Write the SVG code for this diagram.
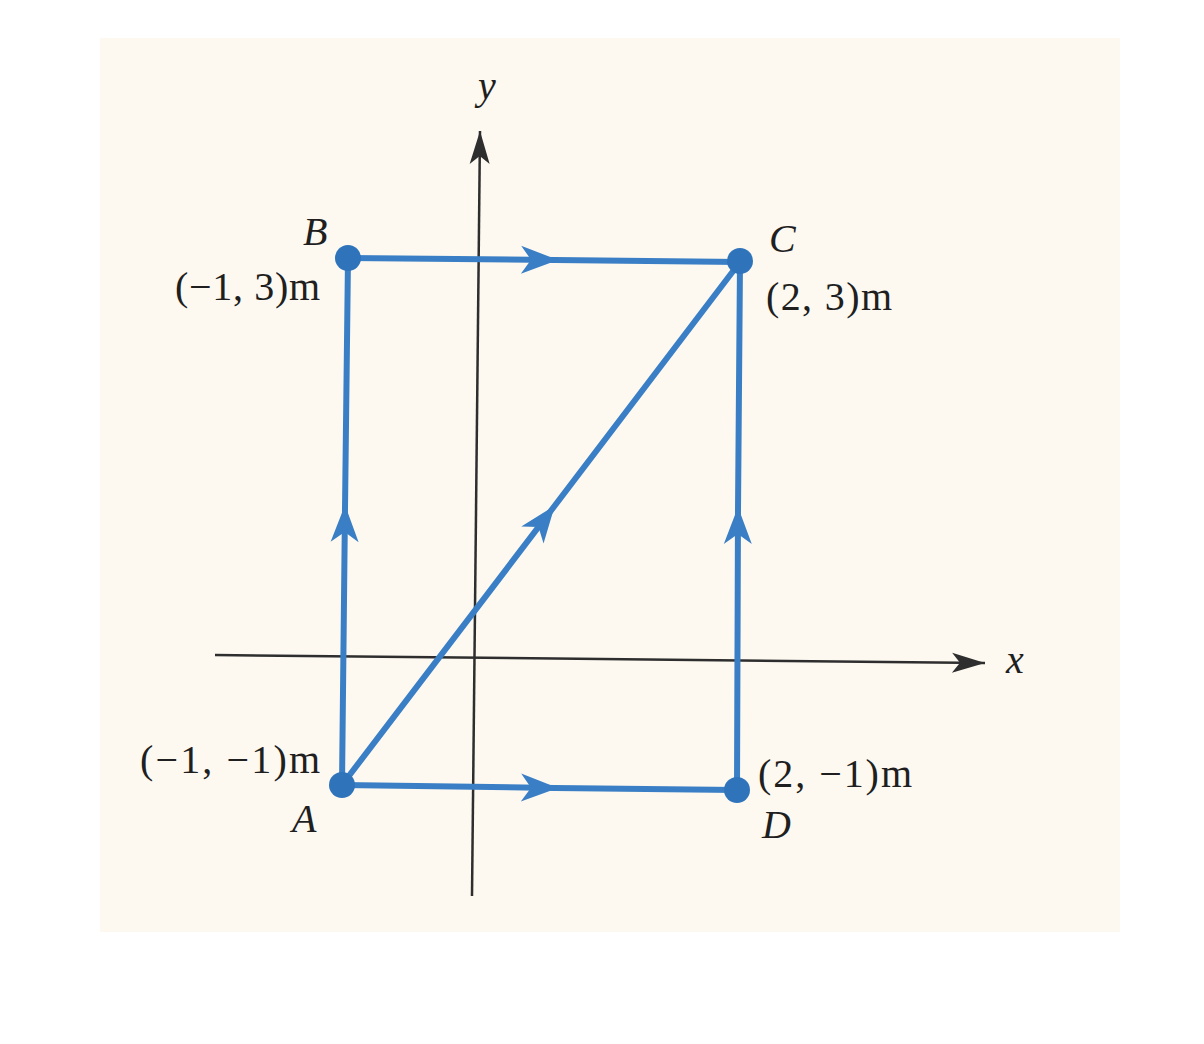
<svg xmlns="http://www.w3.org/2000/svg" width="1204" height="1044" viewBox="0 0 1204 1044">
  <style>
    .lbl { font-family: "Liberation Serif", "Times New Roman", serif; font-size: 40px; fill: #1f1f1f; }
    .it { font-style: italic; }
    .edge { fill: none; stroke: #3a7fc5; stroke-width: 6; stroke-linecap: round; marker-mid: url(#barb); }
    .axis { fill: none; stroke: #2e2e2e; stroke-width: 2.5; marker-end: url(#axhead); }
    .dot { fill: #2f74bb; }
  </style>
  <defs>
    <marker id="barb" markerUnits="userSpaceOnUse" markerWidth="50" markerHeight="34" viewBox="-42 -17 50 34" refX="0" refY="0" orient="auto">
      <path d="M3,0 L-34,-14 L-24,0 L-34,14 Z" fill="#3a7fc5"/>
    </marker>
    <marker id="axhead" markerUnits="userSpaceOnUse" markerWidth="50" markerHeight="30" viewBox="-40 -15 50 30" refX="0" refY="0" orient="auto">
      <path d="M0,0 L-33,-10 L-25,0 L-33,10 Z" fill="#2e2e2e"/>
    </marker>
  </defs>

  <rect x="100" y="38" width="1020" height="894" fill="#fdf9f1"/>

  <g id="axes">
    <path class="axis" d="M472,896 L480,131"/>
    <path class="axis" d="M215,655 L985,663"/>
    <text class="lbl it" x="478" y="99">y</text>
    <text class="lbl it" x="1006" y="673">x</text>
  </g>

  <g id="connectors">
    <path class="edge" d="M348,258 L555,260 L740,262"/>
    <path class="edge" d="M737,790 L738,510 L740,262"/>
    <path class="edge" d="M342,785 L555,788 L737,790"/>
    <path class="edge" d="M342,785 L345,508 L348,258"/>
    <path class="edge" d="M342,785 L553,508 L740,262"/>
  </g>

  <g id="node-A">
    <circle class="dot" cx="342" cy="785" r="13"/>
    <text class="lbl" x="140" y="773" textLength="180" lengthAdjust="spacing">(−1, −1)m</text>
    <text class="lbl it" x="292" y="832">A</text>
  </g>
  <g id="node-B">
    <circle class="dot" cx="348" cy="258" r="13"/>
    <text class="lbl" x="175" y="300" textLength="145" lengthAdjust="spacing">(−1, 3)m</text>
    <text class="lbl it" x="303" y="245">B</text>
  </g>
  <g id="node-C">
    <circle class="dot" cx="740" cy="261" r="13"/>
    <text class="lbl" x="766" y="310" textLength="126" lengthAdjust="spacing">(2, 3)m</text>
    <text class="lbl it" x="769" y="252">C</text>
  </g>
  <g id="node-D">
    <circle class="dot" cx="737" cy="790" r="13"/>
    <text class="lbl" x="758" y="787" textLength="154" lengthAdjust="spacing">(2, −1)m</text>
    <text class="lbl it" x="762" y="838">D</text>
  </g>
</svg>
